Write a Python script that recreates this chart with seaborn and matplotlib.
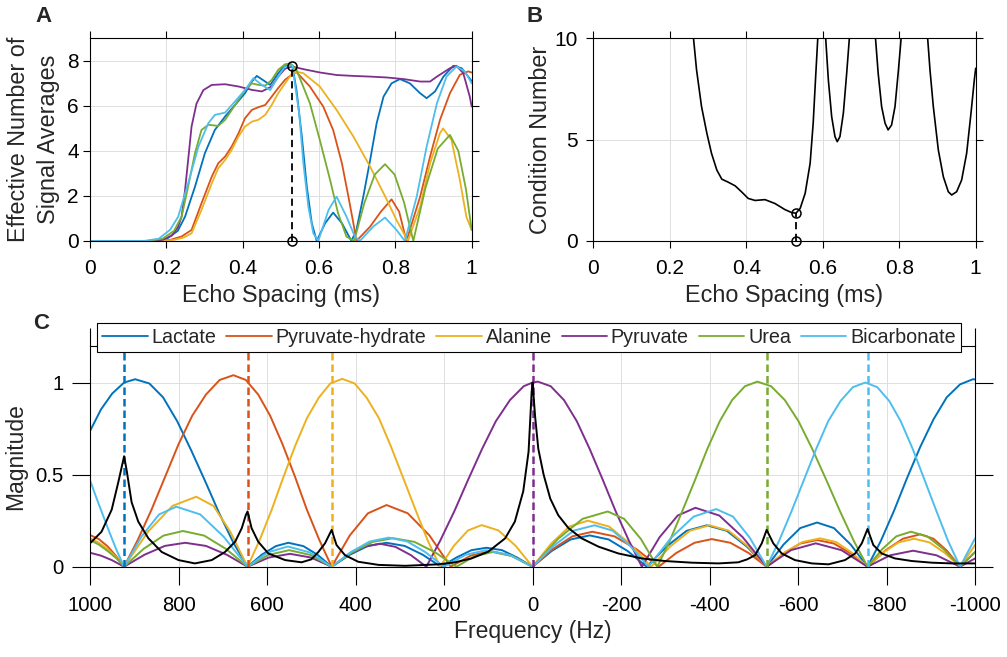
import matplotlib
matplotlib.use('Agg')
import matplotlib.pyplot as plt
from matplotlib.lines import Line2D
import seaborn as sns

# ---------------- data ----------------
names = ['Lactate', 'Pyruvate-hydrate', 'Alanine', 'Pyruvate', 'Urea', 'Bicarbonate']
colors = ['#0072BD', '#D95319', '#EDB120', '#7E2F8E', '#77AC30', '#4DBEEE']
peak_freqs = [923, 644, 454, 0, -529, -757]

opt_es = 0.53          # chosen echo spacing (ms)
opt_nsa = 7.78         # panel A marker
opt_cond = 1.37        # panel B marker

# Panel A: effective number of signal averages vs echo spacing
a_lac_x = [0, 0.16, 0.20, 0.23, 0.249, 0.275, 0.301, 0.327, 0.354, 0.380, 0.406, 0.424, 0.437, 0.459, 0.472, 0.493, 0.511, 0.530,
           0.541, 0.555, 0.568, 0.581, 0.594, 0.616, 0.637, 0.660, 0.685, 0.698, 0.716, 0.734, 0.751, 0.769, 0.790, 0.812,
           0.838, 0.865, 0.882, 0.904, 0.926, 0.952, 0.974, 1.0]
a_lac_y = [0, 0, 0.08, 0.45, 1.08, 2.41, 3.9, 4.93, 5.53, 6.04, 6.56, 7.08, 7.33, 7.08, 6.93, 7.45, 7.8, 7.8,
           6.7, 4.64, 2.41, 0.79, 0, 0.79, 1.26, 0.79, 0, 0.49, 1.97, 3.6, 5.23, 6.41, 7.0, 7.19,
           7.0, 6.56, 6.34, 6.64, 7.3, 7.78, 7.67, 7.1]
a_ph_x = [0, 0.17, 0.21, 0.24, 0.266, 0.292, 0.319, 0.336, 0.354, 0.371, 0.389, 0.406, 0.424, 0.441, 0.459, 0.476, 0.493, 0.511,
          0.530, 0.541, 0.576, 0.611, 0.637, 0.660, 0.677, 0.690, 0.698, 0.734, 0.762, 0.790, 0.810, 0.829,
          0.865, 0.891, 0.917, 0.943, 0.969, 0.991, 1.0]
a_ph_y = [0, 0, 0.05, 0.2, 0.49, 1.67, 2.86, 3.45, 3.75, 4.19, 4.78, 5.45, 5.82, 5.94, 6.04, 6.41, 6.79, 7.16,
          7.4, 7.5, 6.86, 5.97, 4.93, 3.45, 1.97, 0.79, 0, 0.64, 1.3, 1.85, 1.3, 0,
          1.97, 3.75, 5.38, 6.56, 7.38, 7.53, 7.48]
a_ala_x = [0, 0.18, 0.22, 0.245, 0.266, 0.292, 0.319, 0.336, 0.354, 0.371, 0.389, 0.406, 0.424, 0.441, 0.459, 0.476, 0.493, 0.511,
           0.530, 0.545, 0.559, 0.602, 0.646, 0.690, 0.734, 0.778, 0.803, 0.833,
           0.865, 0.891, 0.917, 0.925, 0.947, 0.969, 0.986, 1.0]
a_ala_y = [0, 0, 0.05, 0.15, 0.34, 1.38, 2.56, 3.23, 3.6, 4.04, 4.64, 5.08, 5.3, 5.38, 5.6, 6.04, 6.56, 7.0,
           7.45, 7.5, 7.45, 6.86, 5.82, 4.64, 3.3, 1.82, 0.93, 0,
           1.53, 3.45, 4.79, 5.0, 4.49, 2.71, 1.08, 0.49]
a_pyr_x = [0, 0.15, 0.19, 0.215, 0.23, 0.240, 0.249, 0.258, 0.266, 0.279, 0.297, 0.319,
           0.354, 0.389, 0.424, 0.450, 0.476, 0.493, 0.511, 0.530, 0.559, 0.603, 0.646, 0.690, 0.734, 0.778, 0.821, 0.865,
           0.891, 0.909, 0.943, 0.960, 0.978, 0.995, 1.0]
a_pyr_y = [0, 0, 0.05, 0.25, 0.6, 1.08, 2.27, 3.75, 5.08, 6.1, 6.7, 6.93,
           6.96, 6.86, 6.71, 6.64, 6.86, 7.3, 7.65, 7.75, 7.63, 7.48, 7.37, 7.33, 7.3, 7.26, 7.19, 7.08,
           7.08, 7.3, 7.67, 7.78, 7.45, 6.41, 5.97]
a_urea_x = [0, 0.15, 0.19, 0.22, 0.240, 0.257, 0.275, 0.292, 0.310, 0.336, 0.354, 0.380, 0.406, 0.424, 0.441, 0.459, 0.476, 0.493, 0.511,
            0.525, 0.541, 0.576, 0.602, 0.629, 0.650, 0.672, 0.692, 0.719, 0.746, 0.773, 0.798, 0.823, 0.847,
            0.879, 0.911, 0.943, 0.965, 0.985, 1.0]
a_urea_y = [0, 0, 0.1, 0.45, 1.08, 2.41, 3.9, 4.93, 5.16, 5.11, 5.38, 6.04, 6.7, 7.0, 6.93, 6.9, 7.15, 7.6, 7.85,
            7.88, 7.6, 6.12, 4.49, 2.71, 1.23, 0.19, 0, 1.7, 2.95, 3.41, 2.95, 1.7, 0,
            2.36, 4.1, 4.71, 4.0, 2.3, 0.49]
a_bic_x = [0, 0.14, 0.18, 0.21, 0.231, 0.257, 0.284, 0.310, 0.327, 0.354, 0.380, 0.406, 0.428, 0.450, 0.472, 0.493, 0.511, 0.530,
           0.548, 0.559, 0.572, 0.585, 0.598, 0.625, 0.646, 0.672, 0.694, 0.707, 0.742, 0.773, 0.803, 0.825,
           0.856, 0.882, 0.909, 0.934, 0.960, 0.982, 1.0]
a_bic_y = [0, 0, 0.1, 0.5, 1.08, 2.56, 4.19, 5.23, 5.6, 5.7, 6.2, 6.7, 7.23, 6.93, 6.7, 7.3, 7.75, 7.8,
           5.67, 3.45, 1.53, 0.34, 0, 1.38, 1.97, 1.08, 0.19, 0, 0.64, 1.04, 0.49, 0,
           1.97, 4.19, 6.12, 7.3, 7.75, 7.53, 7.0]

# Panel B: condition number (clipped at 10 -> separate branches)
b_seg1_x = [0.262, 0.270, 0.283, 0.297, 0.309, 0.323, 0.336, 0.353, 0.371, 0.388, 0.405, 0.423, 0.449, 0.475, 0.501, 0.519,
            0.530, 0.541, 0.554, 0.567, 0.575, 0.581, 0.587]
b_seg1_y = [10, 8.44, 6.63, 5.31, 4.33, 3.5, 3.05, 2.9, 2.72, 2.42, 2.1, 2.0, 2.04, 1.85, 1.55, 1.4,
            1.37, 1.61, 2.35, 3.83, 5.81, 7.94, 10]
b_seg2_x = [0.6077, 0.6147, 0.6234, 0.632, 0.638, 0.645, 0.654, 0.6626, 0.6696]
b_seg2_y = [10, 7.94, 6.13, 5.15, 4.9, 5.15, 6.32, 8.27, 10]
b_seg3_x = [0.738, 0.745, 0.754, 0.763, 0.771, 0.780, 0.789, 0.798, 0.805]
b_seg3_y = [10, 8.27, 6.63, 5.81, 5.48, 5.72, 6.63, 8.44, 10]
b_seg4_x = [0.8744, 0.8805, 0.8892, 0.9023, 0.9154, 0.9284, 0.9372, 0.9502, 0.9633, 0.9764, 0.9877, 0.9964, 1.0]
b_seg4_y = [10, 8.44, 6.63, 4.49, 3.17, 2.43, 2.27, 2.43, 3.01, 4.33, 6.3, 7.94, 8.52]

# Panel C: spectral response magnitude vs frequency (Hz)
c_lac_f = [1000, 975, 950, 923, 898, 866, 835, 803, 771, 739, 708, 676, 644, 612, 580, 552, 518, 486, 454, 413, 372, 330, 289, 248, 207,
           172, 138, 104, 69, 35, 0, -43, -86, -129, -172, -215, -258, -303, -348, -394, -439, -484, -529,
           -567, -605, -643, -681, -719, -757, -787, -817, -846, -876, -906, -936, -966, -995, -1000]
c_lac_m = [0.737, 0.855, 0.94, 1.0, 1.018, 0.995, 0.92, 0.79, 0.63, 0.46, 0.29, 0.13, 0, 0.065, 0.112, 0.13, 0.112, 0.065, 0,
           0.065, 0.113, 0.13, 0.113, 0.065, 0, 0.05, 0.09, 0.103, 0.09, 0.05, 0, 0.085, 0.148, 0.17, 0.148, 0.085, 0,
           0.11, 0.195, 0.225, 0.195, 0.11, 0, 0.12, 0.21, 0.24, 0.21, 0.12, 0, 0.14, 0.305, 0.48, 0.65, 0.80, 0.92, 0.99, 1.018, 1.017]
c_ph_f = [1000, 980, 960, 940, 923, 892, 861, 830, 800, 769, 738, 707, 676, 648, 620, 593, 565, 537, 510, 482, 454,
          413, 372, 330, 282, 233, 185, 140, 95, 48, 0, -45, -90, -135, -185, -235, -285, -325, -366, -405, -447, -488, -529,
          -567, -605, -643, -681, -719, -757, -797, -837, -876, -906, -936, -966, -1000]
c_ph_m = [0.172, 0.15, 0.11, 0.055, 0, 0.146, 0.31, 0.49, 0.665, 0.82, 0.935, 1.014, 1.04, 1.014, 0.935, 0.82, 0.665, 0.49, 0.31, 0.146, 0,
          0.17, 0.29, 0.335, 0.29, 0.17, 0, 0.06, 0.085, 0.06, 0, 0.095, 0.165, 0.19, 0.165, 0.095, 0, 0.075, 0.13, 0.15, 0.13, 0.075, 0,
          0.072, 0.126, 0.145, 0.126, 0.072, 0, 0.088, 0.152, 0.176, 0.152, 0.088, 0, 0.08]
c_ala_f = [1000, 980, 960, 940, 923, 869, 814, 760, 721, 683, 644, 617, 590, 564, 537, 510, 483, 457, 430,
           402, 375, 347, 320, 292, 264, 237, 209, 178, 146, 115, 77, 38, 0, -42, -83, -125, -173, -220, -268,
           -312, -356, -400, -443, -486, -529, -569, -610, -650, -686, -721, -757, -792, -827, -862, -897, -931, -966, -1000]
c_ala_m = [0.154, 0.13, 0.095, 0.05, 0, 0.19, 0.33, 0.38, 0.33, 0.19, 0, 0.143, 0.306, 0.48, 0.653, 0.806, 0.918, 0.995, 1.02,
           0.995, 0.918, 0.806, 0.653, 0.48, 0.306, 0.143, 0, 0.113, 0.197, 0.226, 0.197, 0.113, 0, 0.125, 0.218, 0.25, 0.218, 0.125, 0,
           0.112, 0.196, 0.225, 0.196, 0.112, 0, 0.077, 0.134, 0.154, 0.134, 0.077, 0, 0.076, 0.132, 0.152, 0.132, 0.076, 0, 0.118]
c_pyr_f = [1000, 975, 950, 923, 877, 831, 785, 738, 691, 644, 596, 548, 501, 454, 418, 381, 345, 310, 275, 240,
           209, 177, 146, 114, 83, 51, 20, 0, -12, -41, -71, -100, -129, -159, -188, -218, -247,
           -287, -328, -368, -422, -475, -529, -584, -640, -698, -757, -808, -860, -913, -966, -1000]
c_pyr_m = [0.076, 0.06, 0.035, 0, 0.065, 0.113, 0.13, 0.113, 0.065, 0, 0.05, 0.07, 0.05, 0, 0.063, 0.108, 0.125, 0.108, 0.063, 0,
           0.14, 0.30, 0.47, 0.64, 0.79, 0.905, 0.98, 1.0, 1.005, 0.98, 0.905, 0.79, 0.64, 0.47, 0.30, 0.14, 0,
           0.16, 0.278, 0.32, 0.278, 0.16, 0, 0.09, 0.127, 0.09, 0, 0.062, 0.087, 0.062, 0, 0.045]
c_urea_f = [1000, 980, 960, 940, 923, 879, 834, 790, 742, 693, 644, 597, 550, 502, 454, 408, 361, 315, 267, 220, 172,
            131, 90, 45, 0, -57, -113, -170, -207, -245, -282, -310, -338, -367, -395, -423, -451, -480, -508,
            -539, -570, -601, -632, -664, -695, -726, -757, -790, -822, -855, -892, -929, -966, -1000]
c_urea_m = [0.145, 0.12, 0.085, 0.045, 0, 0.097, 0.169, 0.194, 0.169, 0.097, 0, 0.064, 0.09, 0.064, 0, 0.078, 0.135, 0.155, 0.135, 0.078, 0,
            0.057, 0.08, 0.057, 0, 0.15, 0.26, 0.30, 0.26, 0.15, 0, 0.14, 0.30, 0.47, 0.64, 0.79, 0.905, 0.98, 1.005,
            0.98, 0.905, 0.79, 0.64, 0.47, 0.30, 0.14, 0, 0.095, 0.165, 0.19, 0.165, 0.095, 0, 0.08]
c_bic_f = [1000, 985, 970, 955, 940, 923, 884, 844, 805, 751, 698, 644, 598, 553, 504, 454, 411, 368, 325, 283, 242, 200,
           152, 105, 52, 0, -47, -93, -140, -181, -221, -262, -313, -364, -415, -453, -491, -529,
           -557, -585, -613, -641, -668, -696, -724, -752, -779, -806, -832, -859, -886, -913, -939, -966, -1000]
c_bic_m = [0.47, 0.37, 0.275, 0.18, 0.09, 0, 0.163, 0.284, 0.326, 0.284, 0.163, 0, 0.078, 0.11, 0.078, 0, 0.079, 0.137, 0.158, 0.137, 0.079, 0,
           0.064, 0.09, 0.064, 0, 0.112, 0.196, 0.225, 0.196, 0.112, 0, 0.157, 0.272, 0.313, 0.272, 0.157, 0,
           0.14, 0.30, 0.47, 0.64, 0.79, 0.90, 0.975, 1.0, 0.975, 0.90, 0.79, 0.64, 0.47, 0.30, 0.14, 0, 0.154]
c_spec_f = [1000, 974, 951, 936, 923, 917, 906, 891, 868, 838, 800, 763, 725, 695, 672, 657, 648, 644, 635, 620, 597, 559, 522, 500,
            484, 469, 454, 443, 424, 394, 348, 288, 213, 175, 138, 100, 62, 40, 21, 9, 2, 0,
            -6, -13, -25, -40, -58, -81, -111, -149, -194, -247, -299, -360, -420, -465, -485, -503, -518, -529,
            -544, -563, -593, -631, -669, -706, -729, -744, -757, -770, -789, -819, -857, -902, -947, -1000]
c_spec_m = [0.127, 0.19, 0.31, 0.46, 0.60, 0.52, 0.35, 0.245, 0.154, 0.08, 0.036, 0.018, 0.036, 0.08, 0.136, 0.21, 0.28, 0.30, 0.21, 0.136, 0.072, 0.036, 0.024, 0.04,
            0.08, 0.127, 0.20, 0.118, 0.063, 0.027, 0.01, 0.005, 0.013, 0.024, 0.045, 0.082, 0.154, 0.245, 0.41, 0.625, 0.95, 1.0,
            0.81, 0.64, 0.50, 0.37, 0.28, 0.21, 0.154, 0.109, 0.072, 0.045, 0.031, 0.022, 0.018, 0.024, 0.04, 0.063, 0.127, 0.20,
            0.127, 0.072, 0.036, 0.018, 0.013, 0.036, 0.072, 0.127, 0.205, 0.118, 0.072, 0.045, 0.031, 0.022, 0.018, 0.018]

freq_ticks = [1000, 800, 600, 400, 200, 0, -200, -400, -600, -800, -1000]
freq_labels = ['1000', '800', '600', '400', '200', '0', '-200', '-400', '-600', '-800', '-1000']

# ---------------- style ----------------
sns.set_style('ticks')
plt.rcParams['font.family'] = ['Liberation Sans', 'DejaVu Sans']
plt.rcParams['axes.linewidth'] = 0.8

fig = plt.figure(figsize=(10.07, 6.57), dpi=100)
ax_a = fig.add_axes([0.0894, 0.6332, 0.3790, 0.3085])
ax_b = fig.add_axes([0.5892, 0.6332, 0.3797, 0.3085])
ax_c = fig.add_axes([0.0894, 0.1374, 0.8789, 0.3364])


def line(ax, x, y, color, lw=1.3, z=2):
    sns.lineplot(x=x, y=y, ax=ax, color=color, linewidth=lw, sort=False,
                 estimator=None, legend=False, zorder=z)


def box(ax, ticklen, size):
    ax.tick_params(direction='out', length=ticklen, width=0.8, top=True, right=True,
                   labelsize=size, colors='black')
    ax.grid(True, color='#dedede', linewidth=0.7)
    ax.set_axisbelow(True)
    for s in ax.spines.values():
        s.set_visible(True)
        s.set_color('black')
        s.set_linewidth(0.8)


# ---------------- A ----------------
a_curves = [(a_lac_x, a_lac_y), (a_ph_x, a_ph_y), (a_ala_x, a_ala_y),
            (a_pyr_x, a_pyr_y), (a_urea_x, a_urea_y), (a_bic_x, a_bic_y)]
for (x, y), c in zip(a_curves, colors):
    line(ax_a, x, y, c)
ax_a.plot([opt_es, opt_es], [0, opt_nsa], color='black', lw=1.3, dashes=(4, 2.5), zorder=5)
ax_a.plot([opt_es, opt_es], [0, opt_nsa], 'o', color='black', mfc='none', ms=6.5, mew=1.1, zorder=6, clip_on=False)
ax_a.set_xlim(0, 1)
ax_a.set_ylim(0, 9)
ax_a.set_xticks([0, 0.2, 0.4, 0.6, 0.8, 1])
ax_a.set_xticklabels(['0', '0.2', '0.4', '0.6', '0.8', '1'])
ax_a.set_yticks([0, 2, 4, 6, 8])
box(ax_a, 5, 15)
ax_a.tick_params(axis='x', pad=8)
ax_a.tick_params(axis='y', pad=3)
ax_a.set_xlabel('Echo Spacing (ms)', fontsize=16.8, labelpad=4)
ax_a.set_ylabel('Effective Number of\nSignal Averages', fontsize=16.8, labelpad=5, linespacing=1.4)

# ---------------- B ----------------
for x, y in [(b_seg1_x, b_seg1_y), (b_seg2_x, b_seg2_y), (b_seg3_x, b_seg3_y), (b_seg4_x, b_seg4_y)]:
    line(ax_b, x, y, 'black', lw=1.2)
ax_b.plot([opt_es, opt_es], [0, opt_cond], color='black', lw=1.3, dashes=(4, 2.5), zorder=5)
ax_b.plot([opt_es, opt_es], [0, opt_cond], 'o', color='black', mfc='none', ms=6.5, mew=1.1, zorder=6, clip_on=False)
ax_b.set_xlim(0, 1)
ax_b.set_ylim(0, 10)
ax_b.set_xticks([0, 0.2, 0.4, 0.6, 0.8, 1])
ax_b.set_xticklabels(['0', '0.2', '0.4', '0.6', '0.8', '1'])
ax_b.set_yticks([0, 5, 10])
box(ax_b, 5, 15)
ax_b.tick_params(axis='x', pad=8)
ax_b.tick_params(axis='y', pad=6)
ax_b.set_xlabel('Echo Spacing (ms)', fontsize=16.8, labelpad=4)
ax_b.set_ylabel('Condition Number', fontsize=16.8, labelpad=2)

# ---------------- C ----------------
c_curves = [(c_lac_f, c_lac_m), (c_ph_f, c_ph_m), (c_ala_f, c_ala_m),
            (c_pyr_f, c_pyr_m), (c_urea_f, c_urea_m), (c_bic_f, c_bic_m)]
for (f, m), c in zip(c_curves, colors):
    line(ax_c, f, m, c, lw=1.4)
for f, c in zip(peak_freqs, colors):
    ax_c.axvline(f, color=c, lw=1.8, dashes=(3, 1.6), zorder=3)
line(ax_c, c_spec_f, c_spec_m, 'black', lw=1.4, z=4)
ax_c.set_xlim(1000, -1000)
ax_c.set_ylim(0, 1.2)
ax_c.set_xticks(freq_ticks)
ax_c.set_xticklabels(freq_labels)
ax_c.set_yticks([0, 0.5, 1])
ax_c.set_yticklabels(['0', '0.5', '1'])
box(ax_c, 13, 14.6)
ax_c.tick_params(axis='x', pad=8)
ax_c.tick_params(axis='y', pad=6)
ax_c.set_xlabel('Frequency (Hz)', fontsize=16.5, labelpad=4)
ax_c.set_ylabel('Magnitude', fontsize=16.5, labelpad=6)

handles = [Line2D([0], [0], color=c, lw=1.3) for c in colors]
leg = ax_c.legend(handles, names, loc='upper center', bbox_to_anchor=(0.496, 1.104), ncol=6,
                  fontsize=14.2, frameon=True, fancybox=False, edgecolor='black', framealpha=1,
                  handlelength=2.3, handletextpad=0.2, columnspacing=0.5, borderpad=0.25,
                  borderaxespad=0)
leg.get_frame().set_linewidth(0.8)
leg.set_zorder(10)

# panel letters
for txt, x, y in [('A', 35, 6), ('B', 527, 6), ('C', 33, 313)]:
    fig.text(x / 1007, 1 - y / 657, txt, fontsize=16, fontweight='bold', va='top', ha='left')

fig.savefig('out.png', dpi=100)
